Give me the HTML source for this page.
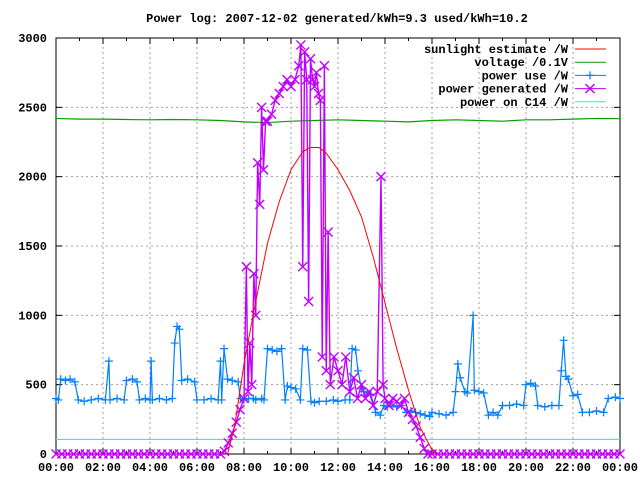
<!DOCTYPE html>
<html><head><meta charset="utf-8"><style>
html,body{margin:0;padding:0;background:#fff}
svg{display:block}
text{font-family:"Liberation Mono",monospace;font-size:12px;font-weight:bold;fill:#000}
</style></head><body>
<svg id="chart" width="640" height="480" xmlns="http://www.w3.org/2000/svg">
<text x="337" y="22" text-anchor="middle">Power log: 2007-12-02 generated/kWh=9.3 used/kWh=10.2</text>
<g id="grid"></g>
<g id="axes"></g>
<g id="series"></g>
<g id="legend"></g>
</svg>
<script>
const yTicks=[0,500,1000,1500,2000,2500,3000];
const xTickHours=[0,2,4,6,8,10,12,14,16,18,20,22,24];
const xTickLabels=["00:00","02:00","04:00","06:00","08:00","10:00","12:00","14:00","16:00","18:00","20:00","22:00","00:00"];
const sunT=[7.3,7.6,8.0,8.5,9.0,9.5,10,10.5,10.8,11.2,11.5,12,12.5,13,13.5,14,14.5,15,15.5,16,16.2];
const sunV=[0,200,650,1100,1520,1820,2050,2180,2210,2210,2170,2050,1900,1710,1420,1090,760,460,190,30,0];
const voltT=[0,1,2,3,4,5,6,7,8,9,10,11,12,13,14,15,16,17,18,19,20,21,22,23,24];
const voltV=[2420,2415,2415,2412,2410,2412,2410,2405,2395,2390,2400,2405,2410,2405,2400,2395,2405,2410,2405,2400,2410,2410,2415,2420,2418];
const useT=[0,0.1,0.2,0.4,0.6,0.8,0.95,1.2,1.5,1.8,2.1,2.25,2.3,2.6,2.9,3.0,3.25,3.45,3.55,3.8,4.0,4.05,4.1,4.4,4.7,4.95,5.05,5.15,5.25,5.35,5.6,5.9,6.0,6.3,6.6,6.9,7.0,7.05,7.15,7.3,7.5,7.75,7.85,8.0,8.2,8.4,8.5,8.75,8.85,9.0,9.2,9.4,9.6,9.75,9.85,10.0,10.2,10.4,10.5,10.7,10.85,11.0,11.2,11.5,11.8,12.0,12.3,12.5,12.6,12.75,12.85,13.0,13.1,13.25,13.4,13.6,13.8,13.95,14.1,14.3,14.5,14.7,14.9,15.1,15.3,15.5,15.7,15.9,16.0,16.3,16.6,16.9,17.0,17.1,17.2,17.4,17.5,17.75,17.8,18.0,18.2,18.4,18.6,18.8,19.0,19.3,19.6,19.9,20.0,20.2,20.4,20.5,20.8,21.1,21.4,21.5,21.6,21.7,21.8,22.0,22.2,22.4,22.7,23.0,23.3,23.5,23.8,24.0];
const useV=[400,390,540,530,540,520,390,380,390,400,390,670,390,400,390,530,540,520,390,400,390,670,390,400,390,400,800,920,900,530,540,520,390,390,400,390,670,390,760,540,530,520,400,390,400,400,390,400,390,760,750,740,760,390,490,480,470,390,760,750,380,370,380,380,390,380,390,390,760,750,600,470,450,440,430,300,280,350,340,350,340,350,300,310,300,290,280,270,300,290,280,300,450,650,550,450,440,1000,460,450,440,280,300,280,350,350,360,350,500,510,490,350,340,350,350,600,820,560,540,420,430,300,300,310,300,400,410,400];
const genT=[0,0.25,0.5,0.75,1,1.25,1.5,1.75,2,2.25,2.5,2.75,3,3.25,3.5,3.75,4,4.25,4.5,4.75,5,5.25,5.5,5.75,6,6.25,6.5,6.75,7.0,7.17,7.33,7.5,7.67,7.83,8.0,8.1,8.17,8.25,8.33,8.42,8.5,8.58,8.67,8.75,8.83,8.92,9.0,9.17,9.33,9.5,9.67,9.83,10.0,10.17,10.33,10.42,10.5,10.58,10.67,10.75,10.83,10.92,11.0,11.08,11.17,11.25,11.33,11.42,11.5,11.58,11.67,11.83,12.0,12.17,12.33,12.5,12.67,12.83,13.0,13.17,13.33,13.5,13.67,13.83,13.92,14.0,14.17,14.33,14.5,14.67,14.83,15.0,15.17,15.33,15.5,15.67,15.83,16,16.25,16.5,16.75,17,17.25,17.5,17.75,18,18.25,18.5,18.75,19,19.25,19.5,19.75,20,20.25,20.5,20.75,21,21.25,21.5,21.75,22,22.25,22.5,22.75,23,23.25,23.5,23.75,24];
const genV=[0,0,0,0,0,0,0,0,0,0,0,0,0,0,0,0,0,0,0,0,0,0,0,0,0,0,0,0,0,20,80,150,230,320,400,1350,450,800,500,1300,1000,2100,1800,2500,2050,2400,2400,2450,2550,2600,2650,2700,2650,2700,2800,2950,1350,2900,2700,1100,2850,2700,2650,2750,2600,2550,700,2800,600,1600,500,700,600,500,700,450,550,400,500,400,450,350,450,2000,500,400,350,400,380,350,400,300,250,200,120,40,0,0,0,0,0,0,0,0,0,0,0,0,0,0,0,0,0,0,0,0,0,0,0,0,0,0,0,0,0,0,0,0,0,0,0,0];
const c14T=[0,6,12,18,24];
const c14V=[105,105,105,105,105];

const X0=56,X1=620,Y0=454,Y1=38;
const sx=h=>X0+(X1-X0)*h/24;
const sy=v=>Y0-(Y0-Y1)*v/3000;
const NS="http://www.w3.org/2000/svg";
function mk(tag,attrs,parent){const e=document.createElementNS(NS,tag);for(const k in attrs)e.setAttribute(k,attrs[k]);parent.appendChild(e);return e;}
const grid=document.getElementById('grid'),axes=document.getElementById('axes'),series=document.getElementById('series'),legend=document.getElementById('legend');

yTicks.forEach(v=>{
  if(v>0&&v<3000){const g=mk('line',{x1:X0,x2:X1,y1:sy(v),y2:sy(v),stroke:'#a0a0a0','stroke-dasharray':'2,3'},grid);
  
  }
  const t=mk('text',{x:X0-9,y:sy(v)+4,'text-anchor':'end'},axes);t.textContent=v;
  
  
  mk('line',{x1:X0,x2:X0+6,y1:sy(v),y2:sy(v),stroke:'#000'},axes);
  mk('line',{x1:X1,x2:X1-6,y1:sy(v),y2:sy(v),stroke:'#000'},axes);
});
xTickHours.forEach((h,i)=>{
  if(h>0&&h<24){const g=mk('line',{x1:sx(h),x2:sx(h),y1:Y0,y2:Y1,stroke:'#a0a0a0','stroke-dasharray':'2,3'},grid);
  
  }
  const t=mk('text',{x:sx(h),y:Y0+17,'text-anchor':'middle'},axes);t.textContent=xTickLabels[i];
  
  
});
for(let h=0;h<=24;h++){const L=h%2?3:6;
  mk('line',{x1:sx(h),x2:sx(h),y1:Y0,y2:Y0-L,stroke:'#000'},axes);
  mk('line',{x1:sx(h),x2:sx(h),y1:Y1,y2:Y1+L,stroke:'#000'},axes);}
const fr=mk('rect',{x:X0,y:Y1,width:X1-X0,height:Y0-Y1,fill:'none',stroke:'#000'},axes);



function line(T,V,color,name,w){
  const p=mk('polyline',{points:T.map((t,i)=>sx(t)+','+sy(V[i])).join(' '),fill:'none',stroke:color,'stroke-width':w||1},series);
  
  
  return p;
}
function plus(x,y,c,g){mk('path',{d:`M${x-4},${y}h8M${x},${y-4}v8`,stroke:c,'stroke-width':1.2},g);}
function cross(x,y,c,g){mk('path',{d:`M${x-4.5},${y-4.5}l9,9M${x-4.5},${y+4.5}l9,-9`,stroke:c,'stroke-width':1.4},g);}

line(c14T,c14V,'#00ffff','c14-power-line',1.2);
line(voltT,voltV,'#00a000','voltage-line',1.2);
line(useT,useV,'#0080ff','power-use-line',1.2);
const ug=mk('g',{},series);
useT.forEach((t,i)=>plus(sx(t),sy(useV[i]),'#0080ff',ug));
line(genT,genV,'#c000ff','power-generated-line',1.4);
const gg=mk('g',{},series);
genT.forEach((t,i)=>cross(sx(t),sy(genV[i]),'#c000ff',gg));
line(sunT,sunV,'#ff0000','sunlight-estimate-line');

const leg=[["sunlight estimate /W","#ff0000",null],["voltage /0.1V","#00a000",null],["power use /W","#0080ff","plus"],["power generated /W","#c000ff","cross"],["power on C14 /W","#00ffff",null]];
leg.forEach((L,i)=>{
  const y=49+i*13.2;
  const g=mk('g',{},legend);
  
  
  const t=mk('text',{x:568,y:y+4,'text-anchor':'end'},g);t.textContent=L[0];
  mk('line',{x1:575,x2:606,y1:y,y2:y,stroke:L[1]},g);
  if(L[2]==='plus')plus(590,y,L[1],g);
  if(L[2]==='cross')cross(590,y,L[1],g);
});
</script>
</body></html>
